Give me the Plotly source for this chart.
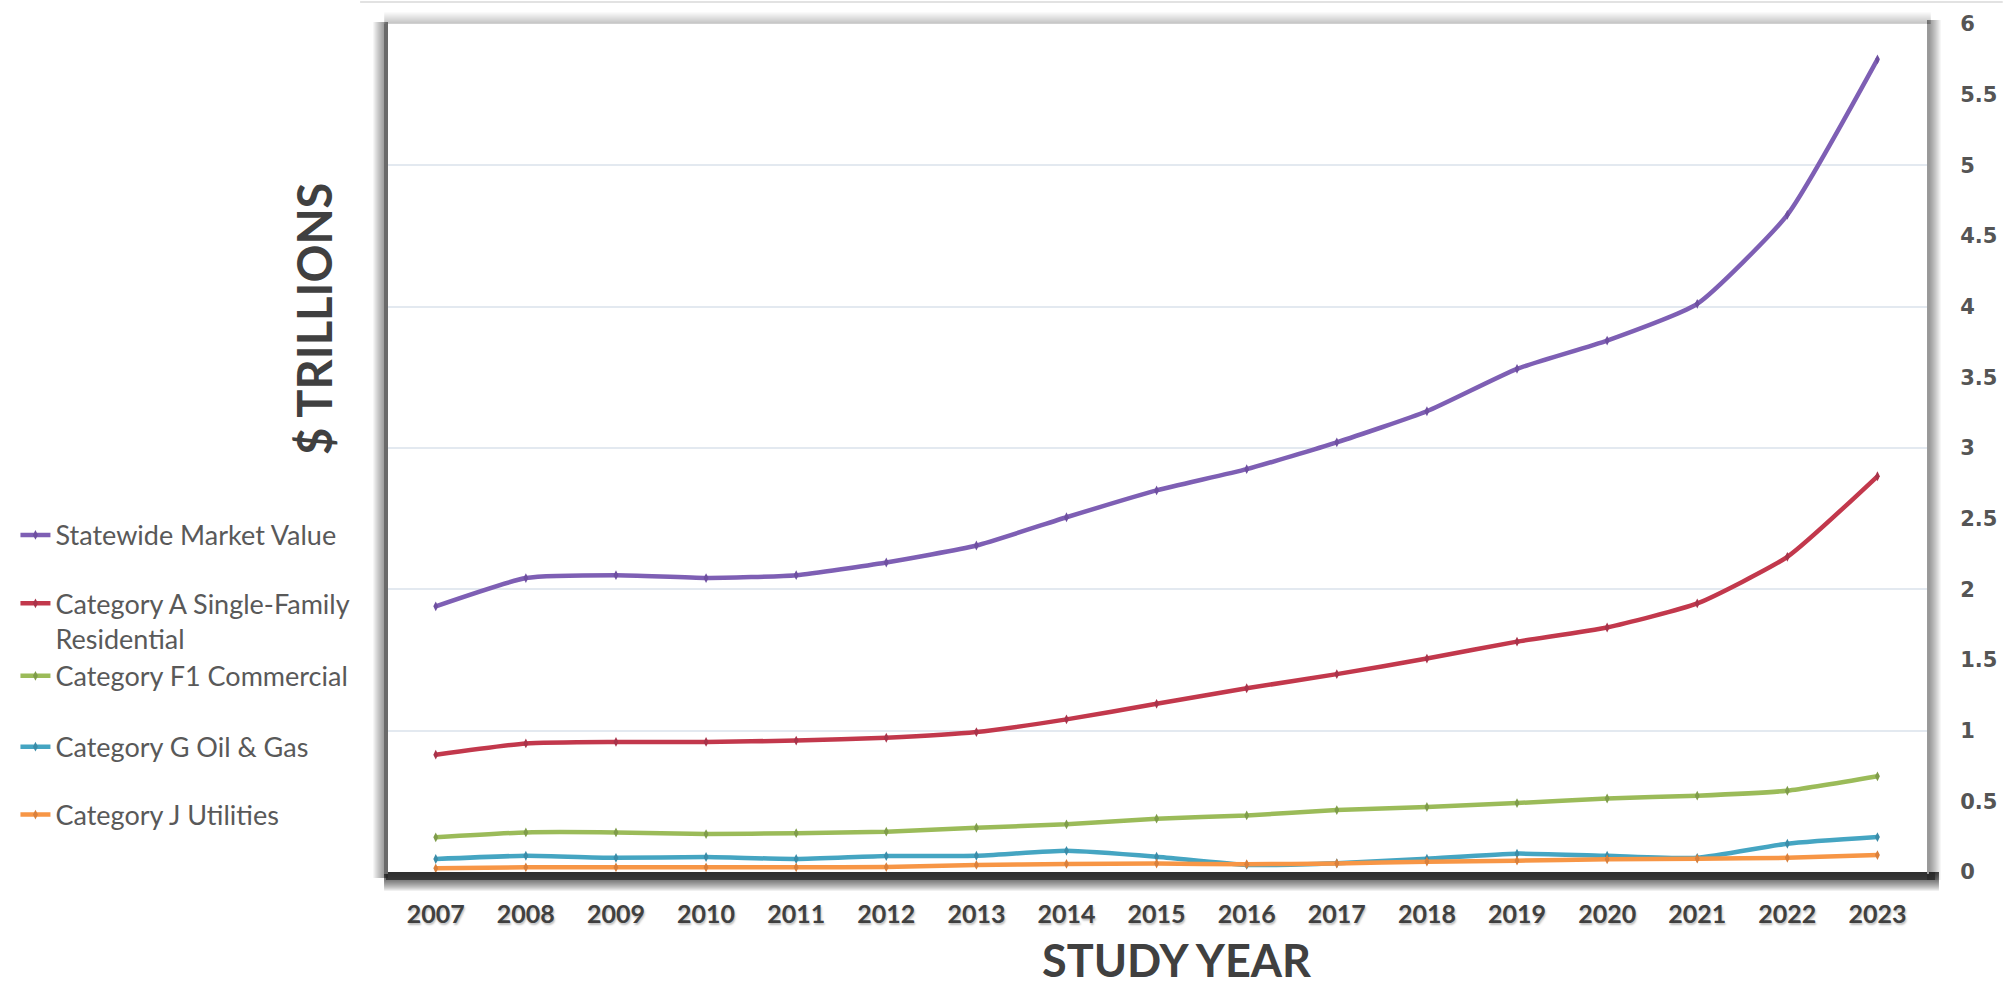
import plotly.graph_objects as go

# ---------------- data ----------------
years = [2007, 2008, 2009, 2010, 2011, 2012, 2013, 2014, 2015, 2016, 2017, 2018, 2019, 2020, 2021, 2022, 2023]
statewide = [1.88, 2.08, 2.10, 2.08, 2.10, 2.19, 2.31, 2.51, 2.70, 2.85, 3.04, 3.26, 3.56, 3.76, 4.02, 4.65, 5.75]
cat_a = [0.83, 0.91, 0.92, 0.92, 0.93, 0.95, 0.99, 1.08, 1.19, 1.30, 1.40, 1.51, 1.63, 1.73, 1.90, 2.23, 2.80]
cat_f1 = [0.245, 0.28, 0.28, 0.268, 0.275, 0.285, 0.313, 0.337, 0.377, 0.40, 0.438, 0.46, 0.488, 0.52, 0.54, 0.575, 0.677]
cat_g = [0.092, 0.115, 0.10, 0.106, 0.092, 0.113, 0.115, 0.15, 0.108, 0.05, 0.062, 0.094, 0.13, 0.115, 0.10, 0.20, 0.247]
cat_j = [0.026, 0.033, 0.033, 0.033, 0.033, 0.035, 0.05, 0.057, 0.06, 0.055, 0.06, 0.073, 0.08, 0.09, 0.094, 0.10, 0.12]

series_names = ["Statewide Market Value",
                "Category A Single-Family<br>Residential",
                "Category F1 Commercial",
                "Category G Oil & Gas",
                "Category J Utilities"]
series_values = [statewide, cat_a, cat_f1, cat_g, cat_j]
line_colors = ["#7E5FB4", "#C2384C", "#9BBB59", "#45A5C2", "#F79646"]
marker_colors = ["#6E4FA0", "#A8334A", "#7F9C4A", "#3A8CA8", "#D9803C"]
y_ticks = [0, 0.5, 1, 1.5, 2, 2.5, 3, 3.5, 4, 4.5, 5, 5.5, 6]
y_tick_text = ["0", "0.5", "1", "1.5", "2", "2.5", "3", "3.5", "4", "4.5", "5", "5.5", "6"]

# ---------------- layout geometry (pixels) ----------------
W, H = 2009, 988
PL, PR, PT, PB = 388, 1933, 23, 872   # plot area edges


def px_x(px):
    return (px - PL) / (PR - PL)


def px_y(py):
    return (PB - py) / (PB - PT)


fig = go.Figure()

legend_ids = ["legend", "legend2", "legend3", "legend4", "legend5"]
legend_centers = [535, 621, 676, 747, 815]

for name, vals, lc, mc, lid in zip(series_names, series_values, line_colors, marker_colors, legend_ids):
    fig.add_trace(go.Scatter(
        x=years, y=vals, name=name, mode="lines+markers",
        line=dict(color=lc, width=4.5, shape="spline", smoothing=0.5),
        marker=dict(color=mc, size=7, symbol="diamond-tall"),
        legend=lid,
    ))

# shadows / frame via shapes (paper coords)
shapes = []


def rect(x0, y0, x1, y1, color, layer="below"):
    shapes.append(dict(type="rect", xref="paper", yref="paper",
                       x0=px_x(x0), x1=px_x(x1), y0=px_y(y0), y1=px_y(y1),
                       fillcolor=color, line=dict(width=0), layer=layer))


# faint top border line of image
rect(360, 0, W, 2, "#E2E2E2")
# top light shadow
for i in range(1, 13):
    rect(PL - 4, PT - i, PR + 4, PT, "rgba(0,0,0,0.018)")
# right shadow
for i in range(1, 15):
    rect(PR, PT - 4, PR + i, PB + 8, "rgba(0,0,0,0.04)")
# left shadow
for i in range(1, 16):
    rect(PL - i, PT - 2, PL, PB + 6, "rgba(0,0,0,0.04)")
# bottom shadow
for i in range(1, 20):
    rect(PL - 4, PB, PR + 12, PB + i, "rgba(0,0,0,0.06)")
rect(PL - 2, PB, PR + 8, PB + 8, "rgba(40,40,40,0.8)")
# frame edges
rect(PL - 4, PT, PL, PB + 2, "#6A6A6A")
rect(PR, PT, PR + 2, PB + 2, "#9A9A9A")
rect(PL, PT - 1, PR, PT, "#D0D0D0")

fig.update_layout(shapes=shapes)

legend_common = dict(xanchor="left", yanchor="middle", bgcolor="rgba(0,0,0,0)",
                     font=dict(family="Lato", size=27, color="#595959"),
                     itemwidth=30, valign="top", borderwidth=0)
leg_layout = {}
for lid, cy in zip(legend_ids, legend_centers):
    leg_layout[lid] = dict(x=px_x(14), y=px_y(cy), **legend_common)

fig.update_layout(
    width=W, height=H,
    margin=dict(l=PL, r=W - PR, t=PT, b=H - PB),
    paper_bgcolor="white", plot_bgcolor="white",
    showlegend=True,
    xaxis=dict(
        range=[2006.47, 2023.55], tickvals=years, ticktext=[str(y) for y in years],
        showgrid=False, zeroline=False, showline=False,
        ticks="outside", ticklen=20, tickcolor="rgba(0,0,0,0)",
        tickfont=dict(family="Lato", size=25, color="#404040", weight="bold",
                      shadow="1px 2px 2px rgba(0,0,0,0.25)"),
    ),
    yaxis=dict(
        range=[0, 6], dtick=1, tick0=0, showticklabels=False,
        showgrid=True, gridcolor="#E3E9F0", gridwidth=1.5,
        zeroline=False, showline=False, ticks="",
    ),
    yaxis2=dict(
        range=[0, 6], overlaying="y", side="right", anchor="x",
        tickvals=y_ticks, ticktext=y_tick_text,
        showgrid=False, zeroline=False, showline=False,
        ticks="outside", ticklen=28, tickcolor="rgba(0,0,0,0)",
        tickfont=dict(family="DejaVu Sans", size=21, color="#555555", weight="bold"),
    ),
    annotations=[
        dict(text="$ TRILLIONS", x=px_x(313), y=px_y(318), xref="paper", yref="paper",
             textangle=-90, showarrow=False, xanchor="center", yanchor="middle",
             font=dict(family="Lato", size=47, color="#404040", weight="bold")),
        dict(text="STUDY YEAR", x=px_x(1180), y=px_y(960), xref="paper", yref="paper",
             showarrow=False, xanchor="center", yanchor="middle",
             font=dict(family="Lato", size=45, color="#404040", weight="bold")),
    ],
    **leg_layout,
)

# invisible trace to activate the right axis
fig.add_trace(go.Scatter(x=[years[0]], y=[0], yaxis="y2", mode="markers",
                         marker=dict(opacity=0), showlegend=False, hoverinfo="skip"))

fig.write_html("out.html")
